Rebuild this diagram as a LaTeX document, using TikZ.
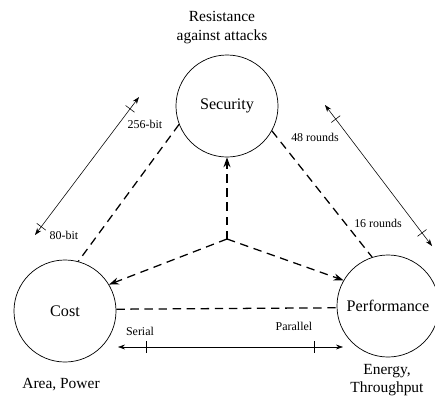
\documentclass[tikz,border=0pt]{standalone}
\usepackage{fontspec}
\setmainfont{Liberation Serif}
\usetikzlibrary{arrows.meta}
\usetikzlibrary{calc}

\begin{document}
\begin{tikzpicture}[x=0.025cm,y=-0.025cm,
  goal/.style={draw,circle,line width=0.5pt,minimum size=2.55cm,inner sep=0pt,font=\fontsize{11.5}{13}\selectfont},
  note/.style={align=center,font=\fontsize{11}{13.5}\selectfont},
  small/.style={font=\fontsize{8.5}{10}\selectfont},
  trade/.style={dash pattern=on 6pt off 4pt,line width=0.9pt},
  pull/.style={trade,-{Stealth[length=7pt,width=5pt]}},
  span/.style={line width=0.4pt,{Stealth[length=5pt,width=3.5pt]}-{Stealth[length=5pt,width=3.5pt]}}]

        \useasboundingbox (0,0) rectangle (435,396);

        % Goals
        \node[goal] (sec) at (227,106) {Security};
        \node[goal] (cost) at (65,311) {Cost};
        \node[goal] (perf) at (388,306) {Performance};

        % Descriptions
        \node[note] (secnote) at (222,28) {Resistance\\against attacks};
        \node[note] (costnote) at (61,385) {Area, Power};
        \node[note,font=\fontsize{11}{12.5}\selectfont] (perfnote) at (387,380) {Energy,\\Throughput};

        % Trade-offs
        \coordinate (mid) at (227,239);
        \draw[pull] (mid) -- (sec);
        \draw[pull] (mid) -- (cost.31);
        \draw[pull] (mid) -- (perf.150);
        \draw[trade] (sec.201) -- (cost.75);
        \draw[trade] (sec.331) -- (perf.108);
        \draw[trade] (cost.2) -- (perf.182);

        % Ranges
        \coordinate (bitlo) at (35,235);
        \coordinate (bithi) at (139,97);
        \coordinate (rndhi) at (325,105);
        \coordinate (rndlo) at (432,246);
        \coordinate (ser) at (118,347);
        \coordinate (par) at (343,347);
        \draw[span] (bitlo) -- (bithi);
        \draw[span] (rndhi) -- (rndlo);
        \draw[span] (ser) -- (par);

        % Ticks
        \foreach \a/\b/\t in {bitlo/bithi/0.06, bitlo/bithi/0.914, rndhi/rndlo/0.1, rndhi/rndlo/0.907, ser/par/0.124, ser/par/0.871}
        {
          \coordinate (tk) at ($(\a)!\t!(\b)$);
          \draw[line width=0.4pt] ($(tk)!4pt!90:(\b)$) -- ($(tk)!4pt!-90:(\b)$);
        }

        % Range labels
        \node[small] (bitmax) at (145,124) {256-bit};
        \node[small] (bitmin) at (64,235) {80-bit};
        \node[small] (rndmax) at (315,137) {48 rounds};
        \node[small] (rndmin) at (378,223) {16 rounds};
        \node[small] (serlab) at (140,331) {Serial};
        \node[small] (parlab) at (294,326) {Parallel};
    \end{tikzpicture}
\end{document}
